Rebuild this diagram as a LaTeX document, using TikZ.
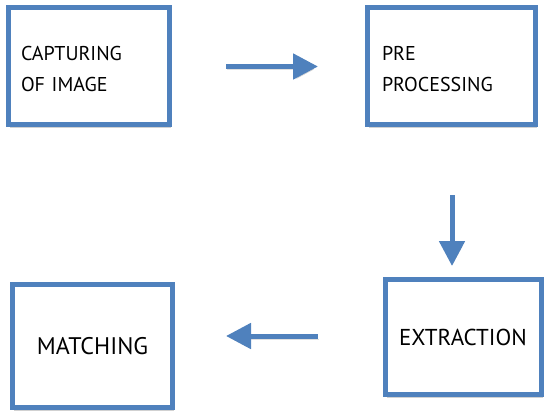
\documentclass[tikz,border=0pt]{standalone}
\usepackage{fontspec}
\setmainfont{PT Sans}
\usepackage{tikz}
\usetikzlibrary{arrows.meta,calc,positioning,shadows}
\definecolor{boxblue}{RGB}{79,129,189}

\begin{document}
\begin{tikzpicture}[x=1pt, y=-1pt,
    stagebox/.style={draw=boxblue, line width=5pt, fill=white, inner sep=0pt,
        drop shadow={shadow xshift=1.5pt, shadow yshift=-3pt, opacity=0.18, fill=black}},
    flow/.style={draw=boxblue, line width=5pt, -{Triangle[length=25pt, width=25pt]},
        preaction={draw=black, opacity=0.12, transform canvas={xshift=1pt, yshift=-3pt}}}]
    \useasboundingbox (0,0) rectangle (544,412);

    % upper row
    \node[stagebox, minimum width=161pt, minimum height=117pt, text width=136pt,
          align=left, font=\fontsize{20}{31}\selectfont] (capture) at (89,66)
          {\rule{0pt}{21pt}CAPTURING\\OF IMAGE};
    \node[stagebox, minimum width=168pt, minimum height=117pt, text width=139pt,
          align=left, font=\fontsize{20}{31}\selectfont] (preproc) at (451.5,66)
          {\rule{0pt}{21pt}PRE\\PROCESSING};

    % lower row
    \node[stagebox, minimum width=156pt, minimum height=115pt,
          font=\fontsize{23}{28}\selectfont] (extract) at (463,337) {EXTRACTION};
    \node[stagebox, minimum width=160pt, minimum height=123pt,
          font=\fontsize{24}{28}\selectfont] (match) at (92.5,346) {MATCHING};

    % free ends of the arrows
    \coordinate (a1s) at (226,66.5);
    \coordinate (a1e) at (318,66.5);
    \coordinate (a2s) at (452,195);
    \coordinate (a2e) at (452,266);
    \coordinate (a3s) at (318,336);
    \coordinate (a3e) at (226,336);

    \draw[flow] (a1s) -- (a1e);
    \draw[flow] (a2s) -- (a2e);
    \draw[flow] (a3s) -- (a3e);
\end{tikzpicture}
\end{document}
